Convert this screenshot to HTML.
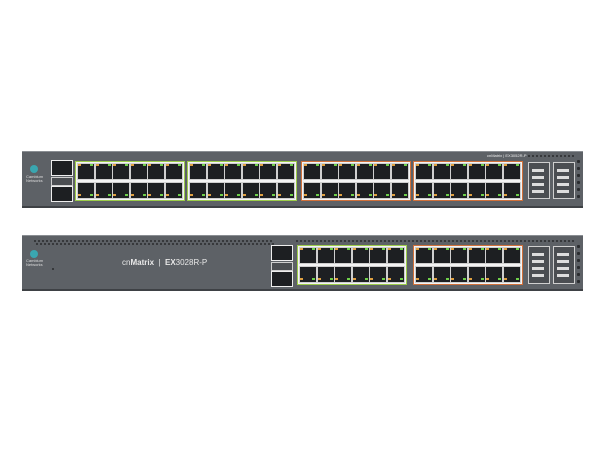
<!DOCTYPE html>
<html><head><style>
body{margin:0;width:600px;height:450px;background:#fff;overflow:hidden;position:relative;font-family:"Liberation Sans",sans-serif}
.a{position:absolute}
.sw{background:#5d6166;border-top:1px solid #8a8e93;border-bottom:2px solid #3e4145}
.blk{background:#f4f4f4;border:1px solid #9ccc4a}
.or{border-color:#d0703a}
.port{background:#1d1f22;border:1px solid #cfcfcf}
.sfp{background:#4b4e52;border:1px solid #cfcfcf}
.hole{background:#2a2c2f;border-radius:1px}
</style></head><body>
<div class="a sw" style="left:22px;top:151px;width:561px;height:54px"></div>
<div class="a sw" style="left:22px;top:235px;width:561px;height:53px"></div>
<div id="c"></div>
<div class="a" style="left:30px;top:165px;width:8px;height:8px;border-radius:50%;background:#3aa6b0"></div>
<div class="a" style="left:26px;top:175px;font-size:4px;color:#ddd;line-height:4px">Cambium<br>Networks</div>
<div class="a" style="left:30px;top:250px;width:8px;height:8px;border-radius:50%;background:#3aa6b0"></div>
<div class="a" style="left:26px;top:259px;font-size:4px;color:#ddd;line-height:4px">Cambium<br>Networks</div>
<div class="a" style="left:122px;top:258px;font-size:8px;color:#e8e8e8;white-space:nowrap">cn<b>Matrix</b> &nbsp;|&nbsp; <b>EX</b>3028R-P</div>
<div class="a" style="left:487px;top:153px;font-size:4px;color:#eee;white-space:nowrap">cnMatrix | EX3052R-P</div>
<script>
var c=document.getElementById('c'),h='';
function d(x,y,w,hh,cl,st){h+='<div class="a '+cl+'" style="left:'+x+'px;top:'+y+'px;width:'+w+'px;height:'+hh+'px;'+(st||'')+'"></div>';}
function block(x,y,orng){
 d(x,y,108,38,'blk'+(orng?' or':''));
 for(var i=0;i<6;i++){
  var px=x+2+i*17.6;
  d(px,y+2,16,15,'port');d(px,y+21,16,15,'port');
  d(px+1,y+3,3,2,'','background:#e0a040');d(px+13,y+3,3,2,'','background:#6fd04a');
  d(px+1,y+33,3,2,'','background:#e0a040');d(px+13,y+33,3,2,'','background:#6fd04a');
 }
}
// top switch
block(75,161,0);block(187,161,0);block(301,161,1);block(413,161,1);
d(51,160,20,14,'port','border-color:#eee');d(51,177,20,7,'sfp');d(51,186,20,14,'port','border-color:#eee');
d(528,162,20,35,'sfp');d(553,162,20,35,'sfp');
for(var i=0;i<4;i++){d(532,169+i*7,12,3,'',"background:#ddd");d(557,169+i*7,12,3,'',"background:#ddd");}
for(var j=0;j<6;j++)d(577,160+j*7,3,3,'hole');
for(var k=0;k<12;k++)d(528+k*4,155,2,2,'hole');
// bottom switch
for(var k=0;k<60;k++){d(34+k*4,240,2,2,'hole');d(36+k*4,243,2,2,'hole');}
for(var k=0;k<70;k++)d(296+k*4,240,2,2,'hole');
d(271,245,20,14,'port','border-color:#eee');d(271,262,20,7,'sfp');d(271,271,20,14,'port','border-color:#eee');
block(297,245,0);block(413,245,1);
d(528,246,20,36,'sfp');d(553,246,20,36,'sfp');
for(var i=0;i<4;i++){d(532,253+i*7,12,3,'',"background:#ddd");d(557,253+i*7,12,3,'',"background:#ddd");}
for(var j=0;j<6;j++)d(577,245+j*7,3,3,'hole');
d(52,268,2,2,'hole');
c.innerHTML=h;
</script>
</body></html>
